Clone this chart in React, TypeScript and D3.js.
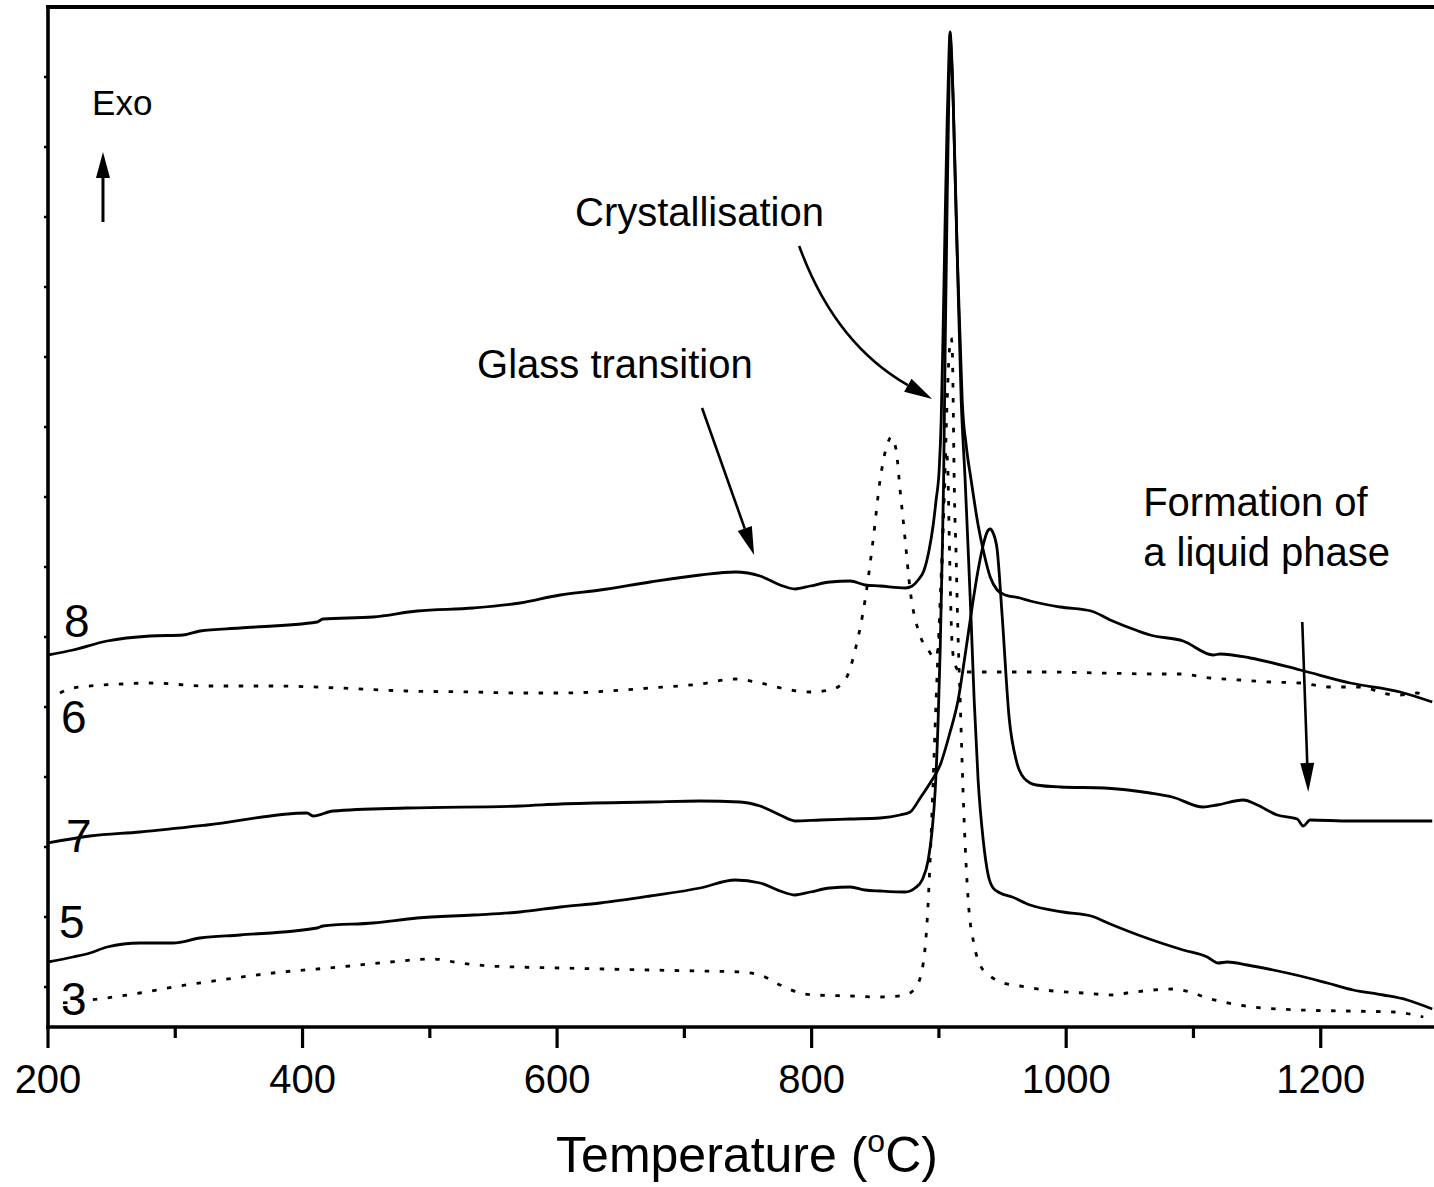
import React from 'react';
import * as d3 from 'd3';

// DTA traces of glass samples 3, 5, 6, 7 and 8 (exo up, arbitrary heat-flow units, curves offset)
const WIDTH = 1434;
const HEIGHT = 1187;
const plot = { left: 48, right: 1434, top: 7, bottom: 1027 };

const tempDomain: [number, number] = [200, 1289];
const signalDomain: [number, number] = [0, 102];

const majorTicks = [200, 400, 600, 800, 1000, 1200];
const minorTicks = [300, 500, 700, 900, 1100];
const signalTicks = d3.range(4, 96, 7);

type Pt = [number, number];

const sample8: Pt[] = [
  [200, 37.2], [219.6, 37.7], [246.4, 38.6], [280.2, 39.1], [306.1, 39.2], [319.4, 39.6],
  [350.9, 39.9], [411.4, 40.5], [416.1, 40.8], [455.4, 41.0], [490, 41.6], [534, 41.9],
  [570.9, 42.4], [602.4, 43.2], [633.8, 43.7], [673.1, 44.5], [712.4, 45.2], [739.9, 45.5],
  [759.5, 45.1], [775.2, 44.2], [787, 43.8], [798.8, 44.1], [814.5, 44.5], [830.3, 44.6],
  [842, 44.2], [853.8, 44.1], [873.5, 43.9], [879, 44.1], [883.7, 44.7], [888.4, 45.7],
  [892.3, 47.7], [895.5, 50.2], [897.8, 52.7], [900.2, 55.7], [901.8, 60.7], [903.3, 69.7],
  [904.9, 80.7], [906.5, 90.7], [908, 97.7], [908.8, 99.5], [909.6, 98.2], [911.2, 92.7],
  [912.8, 84.7], [914.3, 77.7], [916.7, 68.7], [918.3, 62.7], [921.4, 58.2], [925.3, 54.7],
  [930.8, 50.2], [934.8, 47.7], [940.3, 45.0], [945.8, 43.7], [952.1, 43.2], [963.8, 42.9],
  [971.7, 42.6], [995.3, 42.0], [1019.6, 41.6], [1034.6, 40.7], [1056.6, 39.6], [1066, 39.2],
  [1091.9, 38.6], [1115.5, 37.2], [1121, 37.3], [1144.6, 36.9], [1183.9, 35.7], [1223.2, 34.4],
  [1262.5, 33.5], [1287.6, 32.5],
];

const sample6: Pt[] = [
  [209.4, 33.4], [219.6, 33.9], [258.9, 34.3], [280.2, 34.4], [325, 34.1], [376.8, 34.1],
  [429.5, 33.9], [482.1, 33.6], [534, 33.5], [568.6, 33.4], [602.4, 33.4], [673.1, 33.9],
  [712.4, 34.3], [739.9, 34.8], [759.5, 34.4], [783.1, 33.7], [798.8, 33.5], [814.5, 33.7],
  [826.3, 34.7], [834.2, 37.7], [842, 42.7], [848.3, 48.7], [853.8, 54.7], [859.3, 58.2],
  [862.5, 59.0], [866.4, 57.7], [869.5, 53.7], [873.5, 48.7], [877.4, 43.7], [883.7, 39.7],
  [891.6, 37.7], [897.1, 36.9], [900.2, 38.7], [901.8, 42.7], [903.3, 50.7], [904.5, 55.7],
  [905.7, 57.7], [906.9, 56.2], [908, 49.7], [909.2, 42.7], [910.4, 38.2], [912.8, 36.2],
  [916.7, 35.5], [948.1, 35.5], [987.4, 35.5], [1026.7, 35.4], [1071.5, 35.3], [1089.6, 35.3],
  [1113.2, 34.9], [1136.7, 34.7], [1160.3, 34.5], [1183.9, 34.4], [1207.5, 34.0], [1231, 34.0],
  [1252.3, 33.3], [1262.5, 33.2], [1275.8, 33.4], [1282.2, 33.1],
];

const sample7: Pt[] = [
  [200, 18.4], [233, 19.1], [272.3, 19.5], [325, 20.2], [403.5, 21.4], [408.3, 21.1],
  [424, 21.6], [482.1, 21.9], [570.9, 22.1], [602.4, 22.3], [673.1, 22.5], [712.4, 22.6],
  [743.8, 22.5], [759.5, 22.1], [775.2, 21.2], [787, 20.6], [806.7, 20.7], [830.3, 20.8],
  [853.8, 20.9], [869.5, 21.2], [877.4, 21.5], [885.3, 22.9], [893.1, 24.4], [901, 26.2],
  [908.8, 29.5], [915.1, 32.7], [920.6, 37.2], [926.1, 42.0], [930.8, 45.7], [934.8, 48.2],
  [937.9, 49.5], [940.3, 49.8], [942.6, 49.4], [945.8, 47.7], [949.7, 41.1], [955.2, 30.9],
  [960.7, 26.7], [963.1, 25.7], [971.7, 24.4], [976.4, 24.2], [995.3, 24.0], [1029.9, 23.9],
  [1066, 23.4], [1083.3, 23.0], [1107.7, 22.0], [1118.7, 22.2], [1139.1, 22.7], [1150.2, 22.2],
  [1165.8, 21.2], [1181.5, 20.8], [1186.3, 20.1], [1191.7, 20.7], [1223.2, 20.6], [1287.6, 20.6],
];

const sample5: Pt[] = [
  [200, 6.5], [219.6, 7.0], [233, 7.4], [246.4, 8.0], [272.3, 8.4], [298.2, 8.4], [319.4, 8.9],
  [350.9, 9.2], [411.4, 9.9], [416.1, 10.1], [455.4, 10.4], [490, 10.9], [534, 11.2],
  [570.9, 11.5], [602.4, 12.0], [633.8, 12.4], [673.1, 13.1], [712.4, 13.9], [739.9, 14.7],
  [759.5, 14.4], [775.2, 13.6], [787, 13.2], [798.8, 13.5], [814.5, 13.9], [830.3, 14.0],
  [842, 13.7], [853.8, 13.6], [873.5, 13.5], [881.3, 13.9], [886.8, 14.7], [891.6, 16.7],
  [894.7, 19.7], [897.1, 23.7], [899.4, 30.7], [901, 37.7], [902.5, 46.7], [903.7, 54.7],
  [904.9, 67.7], [906.5, 82.7], [908, 94.7], [908.8, 99.2], [909.6, 97.7], [911.2, 92.7],
  [914.3, 77.7], [917.5, 62.7], [920.6, 54.7], [923, 47.7], [925.3, 40.7], [927.7, 32.7],
  [930.8, 24.7], [934.8, 18.7], [938.7, 15.2], [942.6, 13.9], [948.1, 13.4], [957.6, 13.0],
  [971.7, 12.2], [997.6, 11.5], [1019.6, 11.1], [1034.6, 10.3], [1056.6, 9.2], [1091.9, 7.7],
  [1110.8, 7.0], [1119.4, 6.4], [1126.5, 6.5], [1142.2, 6.2], [1162.7, 5.7], [1183.9, 5.1],
  [1205.1, 4.4], [1225.5, 3.7], [1249.1, 3.2], [1268, 2.7], [1287.6, 1.8],
];

const sample3: Pt[] = [
  [211.8, 2.4], [233, 2.7], [272.3, 3.4], [298.2, 4.0], [325, 4.5], [376.8, 5.4], [429.5, 6.0],
  [468.8, 6.5], [502.6, 6.8], [523.8, 6.4], [547.3, 6.1], [568.6, 6.0], [602.4, 5.9],
  [673.1, 5.7], [712.4, 5.6], [743.8, 5.5], [759.5, 5.2], [775.2, 4.2], [791, 3.4],
  [802.8, 3.2], [830.3, 3.1], [853.8, 3.0], [873.5, 3.2], [881.3, 3.9], [886.8, 5.7],
  [890.8, 10.7], [893.1, 16.7], [895.5, 24.7], [897.8, 32.7], [901, 42.7], [904.1, 52.7],
  [906.5, 62.7], [908, 67.2], [909.6, 68.9], [910.4, 68.2], [911.2, 62.7], [912, 54.7],
  [913.6, 46.7], [914.7, 40.7], [916.7, 32.7], [919.8, 20.7], [923, 12.7], [927.7, 8.2],
  [932.4, 6.2], [940.3, 5.1], [950.5, 4.4], [963.8, 4.1], [989.8, 3.6], [1013.4, 3.4],
  [1036.9, 3.2], [1047.9, 3.4], [1060.5, 3.6], [1084.1, 3.8], [1097.4, 3.5], [1110.8, 2.9],
  [1123.4, 2.5], [1147, 2.0], [1183.9, 1.7], [1220.8, 1.6], [1257, 1.5], [1280.6, 1.0],
];

const series = [
  { id: '8', data: sample8, dotted: false, label: [212.6, 39.0] as Pt },
  { id: '6', data: sample6, dotted: true, label: [210.2, 29.4] as Pt },
  { id: '7', data: sample7, dotted: false, label: [214.1, 17.5] as Pt },
  { id: '5', data: sample5, dotted: false, label: [208.6, 8.9] as Pt },
  { id: '3', data: sample3, dotted: true, label: [210.2, 1.2] as Pt },
];

const FONT = '"Liberation Sans", Arial, Helvetica, sans-serif';

function headPoints(tip: Pt, from: Pt, len: number, width: number): { poly: string; base: Pt } {
  const dx = tip[0] - from[0];
  const dy = tip[1] - from[1];
  const d = Math.hypot(dx, dy);
  const ux = dx / d;
  const uy = dy / d;
  const base: Pt = [tip[0] - ux * len, tip[1] - uy * len];
  const nx = -uy * (width / 2);
  const ny = ux * (width / 2);
  const poly = [tip, [base[0] + nx, base[1] + ny], [base[0] - nx, base[1] - ny]]
    .map((p) => p.join(','))
    .join(' ');
  return { poly, base };
}

export default function App() {
  const x = d3.scaleLinear().domain(tempDomain).range([plot.left, plot.right]);
  const y = d3.scaleLinear().domain(signalDomain).range([plot.bottom, plot.top]);
  const line = d3
    .line<Pt>()
    .x((d) => x(d[0]))
    .y((d) => y(d[1]))
    .curve(d3.curveMonotoneX);

  const P = (t: number, v: number): Pt => [x(t), y(v)];

  // straight annotation arrows
  const straightArrows = [
    { from: P(243.2, 80.5), tip: P(243.2, 87.5), len: 26, w: 14, sw: 3 },
    { from: P(713.9, 61.9), tip: P(754.8, 47.2), len: 28, w: 15, sw: 2.6 },
    { from: P(1185.5, 40.5), tip: P(1190.2, 23.5), len: 29, w: 14, sw: 2.6 },
  ];

  // curved arrow for the crystallisation peak
  const c0 = P(790.2, 78.1);
  const c1 = P(818.1, 68.35);
  const cTip = P(894.7, 62.8);
  const cHead = headPoints(cTip, c1, 28, 15);

  return (
    <svg
      width={WIDTH}
      height={HEIGHT}
      viewBox={`0 0 ${WIDTH} ${HEIGHT}`}
      style={{ position: 'absolute', left: 0, top: 0, background: '#fff' }}
      fontFamily={FONT}
    >
      <rect x={0} y={0} width={WIDTH} height={HEIGHT} fill="#fff" />

      {/* curves */}
      {series.map((s) => (
        <path
          key={s.id}
          d={line(s.data) || ''}
          fill="none"
          stroke="#000"
          strokeWidth={s.dotted ? 2.8 : 2.8}
          strokeDasharray={s.dotted ? '4.5 10.5' : undefined}
          strokeLinejoin="round"
        />
      ))}

      {/* frame: left axis, top border, bottom axis */}
      <line x1={plot.left} x2={plot.left} y1={plot.top - 2} y2={plot.bottom + 2} stroke="#000" strokeWidth={3.6} />
      <line x1={plot.left - 2} x2={plot.right} y1={plot.top} y2={plot.top} stroke="#000" strokeWidth={3.8} />
      <line x1={plot.left - 2} x2={plot.right} y1={plot.bottom} y2={plot.bottom} stroke="#000" strokeWidth={3.6} />

      {/* signal axis ticks (unlabelled) */}
      {signalTicks.map((v) => (
        <line key={`yt${v}`} x1={plot.left - 4} x2={plot.left} y1={y(v)} y2={y(v)} stroke="#000" strokeWidth={2.5} />
      ))}

      {/* temperature axis ticks */}
      {majorTicks.map((t) => (
        <g key={`mj${t}`}>
          <line x1={x(t)} x2={x(t)} y1={plot.bottom} y2={plot.bottom + 21} stroke="#000" strokeWidth={3.2} />
          <text x={x(t)} y={1093} fontSize={40} textAnchor="middle" fill="#000">
            {t}
          </text>
        </g>
      ))}
      {minorTicks.map((t) => (
        <line key={`mn${t}`} x1={x(t)} x2={x(t)} y1={plot.bottom} y2={plot.bottom + 11} stroke="#000" strokeWidth={3.2} />
      ))}

      {/* axis title */}
      <text x={747} y={1172} fontSize={50} textAnchor="middle" fill="#000">
        Temperature (<tspan fontSize={32} dy={-20}>o</tspan>
        <tspan dy={20}>C)</tspan>
      </text>

      {/* curve labels */}
      {series.map((s) => (
        <text key={`lb${s.id}`} x={x(s.label[0])} y={y(s.label[1])} fontSize={46} fill="#000">
          {s.id}
        </text>
      ))}

      {/* annotations */}
      <text x={x(234.6)} y={y(91.2)} fontSize={35} fill="#000">Exo</text>
      <text x={x(537.1)} y={y(64.9)} fontSize={40} fill="#000">Glass transition</text>
      <text x={x(614.1)} y={y(80.1)} fontSize={40} fill="#000">Crystallisation</text>
      <text x={x(1060.5)} y={y(51.1)} fontSize={40} fill="#000">Formation of</text>
      <text x={x(1060.5)} y={y(46.1)} fontSize={40} fill="#000">a liquid phase</text>

      {straightArrows.map((a, i) => {
        const h = headPoints(a.tip, a.from, a.len, a.w);
        return (
          <g key={`ar${i}`}>
            <line x1={a.from[0]} y1={a.from[1]} x2={h.base[0]} y2={h.base[1]} stroke="#000" strokeWidth={a.sw} />
            <polygon points={h.poly} fill="#000" />
          </g>
        );
      })}
      <path
        d={`M${c0[0]},${c0[1]} Q${c1[0]},${c1[1]} ${cHead.base[0]},${cHead.base[1]}`}
        fill="none"
        stroke="#000"
        strokeWidth={2.6}
      />
      <polygon points={cHead.poly} fill="#000" />
    </svg>
  );
}
